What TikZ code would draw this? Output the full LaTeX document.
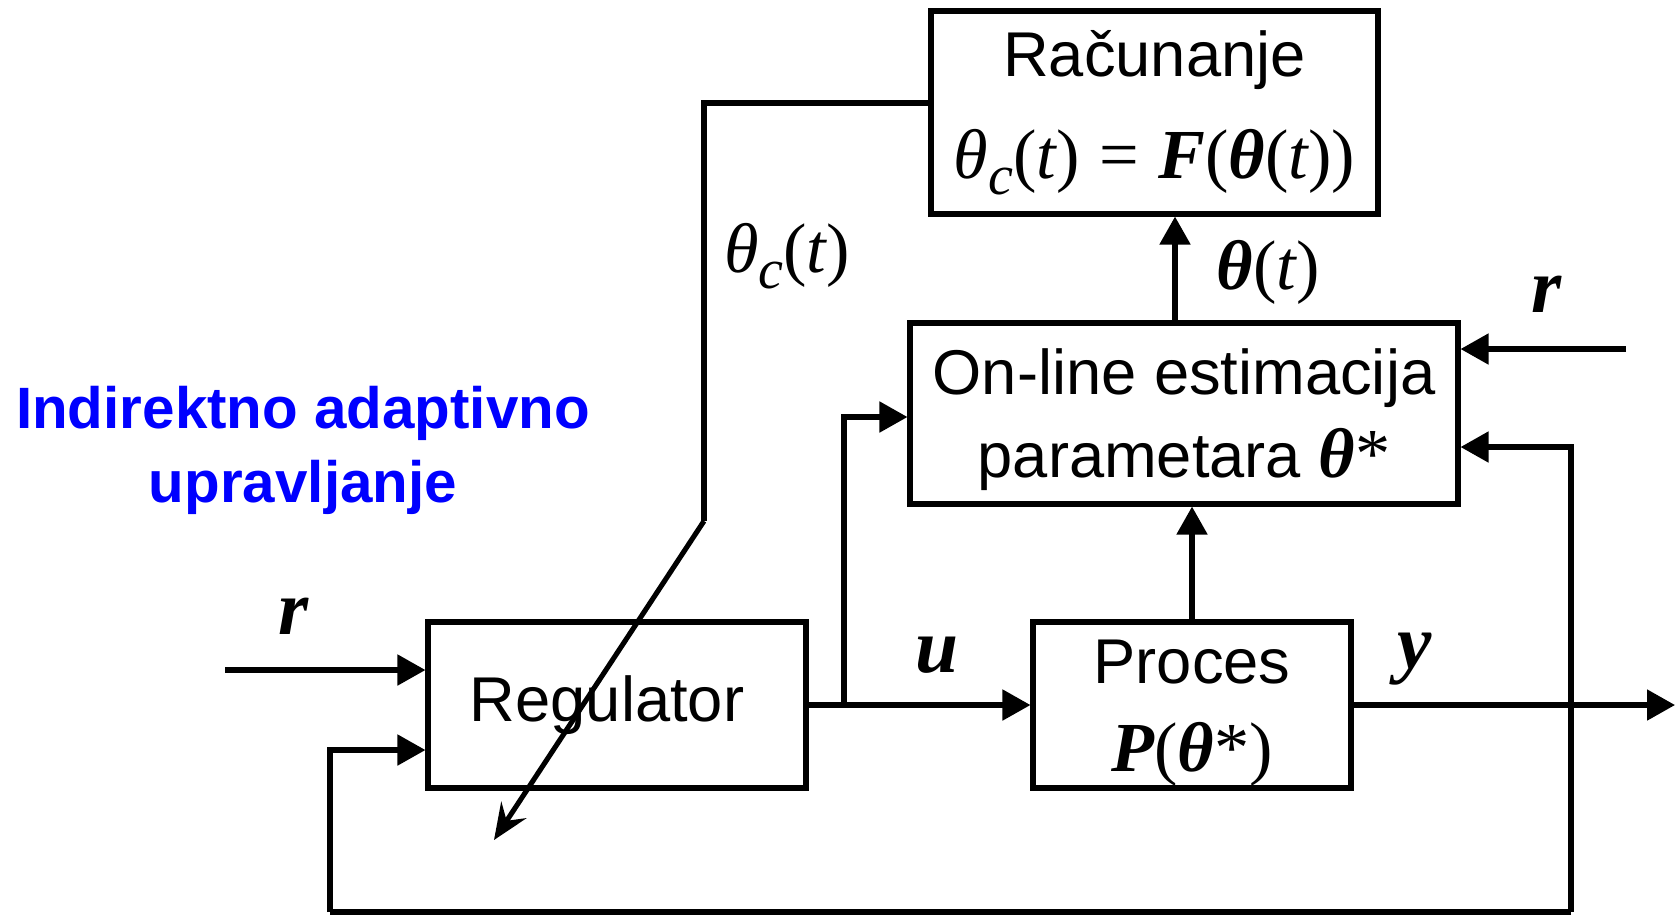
\documentclass[tikz,border=0pt]{standalone}
\usepackage{fontspec}
\setmainfont{Liberation Sans}
\newfontfamily\tnr{Liberation Serif}
\usetikzlibrary{arrows.meta,positioning}
\definecolor{naslovBlue}{HTML}{0000FF}
\newcommand{\vi}[1]{{\tnr\itshape #1}}
\newcommand{\vb}[1]{{\tnr\bfseries\itshape #1}}
\newcommand{\mth}{\fontsize{20}{24}\selectfont}
\newcommand{\thc}{\vi{θ\raisebox{-0.5ex}{\fontsize{16}{16}\selectfont c}}{\tnr(}\vi{t}{\tnr)}}

\begin{document}
\begin{tikzpicture}[
  font=\fontsize{18}{23.6}\selectfont,>={Triangle[length=2.8mm,width=3mm]},
  blok/.style={rectangle,draw=black,line width=1.45pt,align=center,inner sep=0pt},
  sig/.style={->,line width=1.45pt,draw=black},
  veza/.style={line width=1.45pt,draw=black},
  lbl/.style={font=\mth,inner sep=0pt}
]
\useasboundingbox (0,0) rectangle (16.75,-9.14);
% Blocks of the indirect adaptive loop; coordinates follow the original sheet.
\node[blok,minimum width=4.47cm,minimum height=2.03cm] (racun) at (11.545,-1.125)
 {Računanje\\[5.4pt]{\mth\thc\ {\tnr=} \vb{F}{\tnr(}\vb{θ}{\tnr(}\vi{t}{\tnr))}}};
\node[blok,minimum width=5.48cm,minimum height=1.81cm] (estim) at (11.84,-4.135)
 {\rule{0pt}{16.5pt}On-line estimacija\\parametara {\mth\vb{θ}{\tnr*}}};
\node[blok,minimum width=3.18cm,minimum height=1.66cm] (proces) at (11.92,-7.05)
 {\rule{0pt}{17pt}Proces\\[1.5pt]{\mth\vb{P}{\tnr(}\vb{θ}{\tnr*)}}};
\node[blok,minimum width=3.78cm,minimum height=1.66cm] (reg) at (6.17,-7.05) {\hspace*{-2mm}Regulator};
\node[font=\bfseries\fontsize{16.6}{21}\selectfont,text=naslovBlue,align=center] (naslov) at (3.03,-4.50)
 {Indirektno adaptivno\\upravljanje};
% free ends of the signal lines
\coordinate (rin1) at (2.25,-6.70);
\coordinate (rin2) at (16.26,-3.49);
\coordinate (yout) at (16.75,-7.05);
\coordinate (ubr) at (8.44,-7.05);
\coordinate (fbR) at (15.71,-9.12);
\coordinate (fbL) at (3.30,-9.12);
\coordinate (knee) at (7.04,-5.21);
\coordinate (tip) at (4.94,-8.40);
\coordinate (th) at ([xshift=-0.9mm]estim.north);
\draw[sig] (rin1) -- (rin1 -| reg.west);
\draw[sig] (reg.east) -- (proces.west);
\draw[sig] (proces.east) -- (yout);
\draw[sig] (ubr) |- ([yshift=-0.35mm]estim.west);
\draw[sig] (proces.north) -- (proces.north |- estim.south);
\draw[sig] (th) -- (th |- racun.south);
\draw[sig] (rin2) -- (rin2 -| estim.east);
\draw[sig] (fbR) |- ([yshift=-3.35mm]estim.east);
\draw[veza] (fbR) -- (fbL);
\draw[sig] (fbL) |- ([yshift=-4.5mm]reg.west);
\draw[veza] ([yshift=0.95mm]racun.west) -| (knee);
\draw[line width=1.45pt,-{Stealth[length=3.6mm,width=3mm,inset=1.3mm]}] (knee) -- (tip);
% signal names
\node[lbl] (lthc) at (7.87,-2.56) {\thc};
\node[lbl] (lth) at (12.68,-2.72) {\vb{θ}{\tnr(}\vi{t}{\tnr)}};
\node[lbl,font=\fontsize{22}{24}\selectfont] (lr2) at (15.47,-2.94) {\vb{r}};
\node[lbl,font=\fontsize{22}{24}\selectfont] (lr1) at (2.94,-6.16) {\vb{r}};
\node[lbl,font=\fontsize{22}{24}\selectfont] (lu) at (9.37,-6.55) {\vb{u}};
\node[lbl,font=\fontsize{22}{24}\selectfont] (ly) at (14.15,-6.59) {\vb{y}};
\end{tikzpicture}
\end{document}
